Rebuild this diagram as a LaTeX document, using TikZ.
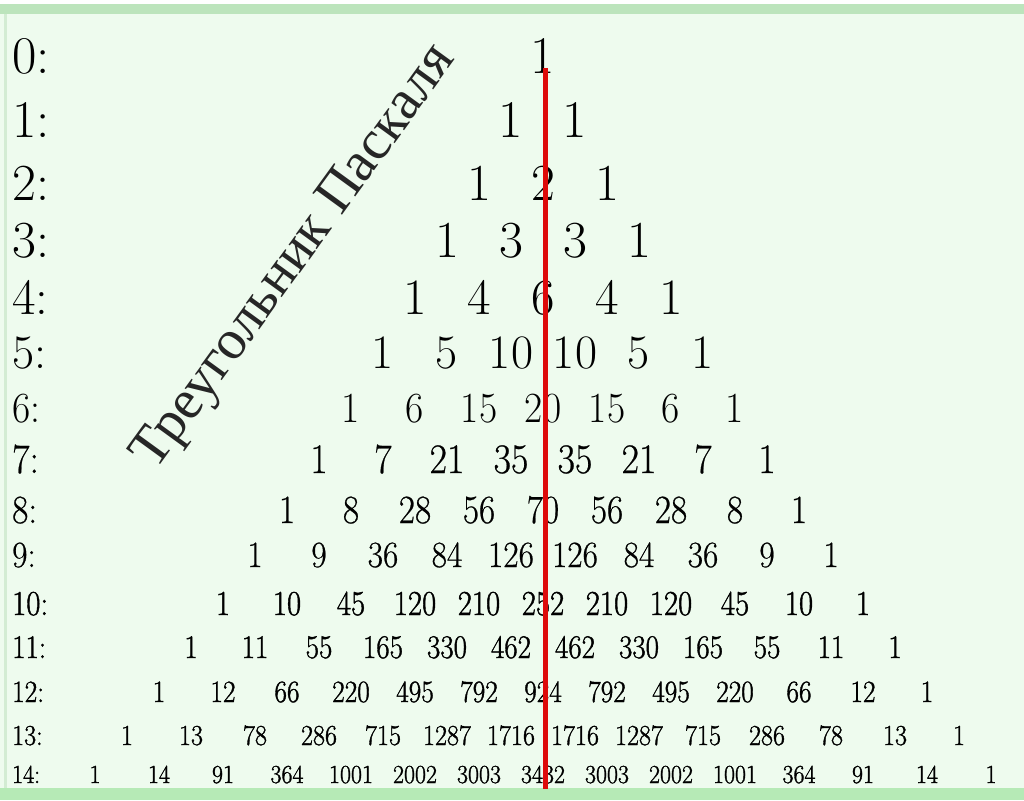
\documentclass[tikz,border=0pt]{standalone}
\usepackage{fontspec}
\usepackage{graphicx}
\newfontfamily\cyrserif{Liberation Serif}
\newfontfamily\lmmid{Latin Modern Roman}[FakeBold=0.6]
\newfontfamily\lmheavy{Latin Modern Roman}[FakeBold=1.3]
\definecolor{bggreen}{HTML}{EEFBEE}
\definecolor{topband}{HTML}{BCE4BC}
\definecolor{botband}{HTML}{B6EAB6}
\definecolor{leftline}{HTML}{D3ECD3}
\definecolor{axisred}{HTML}{DD0A0A}
\newcommand{\rowface}[1]{\ifcase#1\relax\or\lmmid\or\lmheavy\fi}
\tikzset{
  entry/.style={inner sep=0pt, anchor=base, text=black},
  rowlabel/.style={inner sep=0pt, anchor=base west, text=black},
  redline/.style={draw=axisred, line width=5pt},
  titletext/.style={inner sep=0pt, rotate=54, font=\cyrserif\fontsize{56}{56}\selectfont, text=black!85}
}
\begin{document}
\begin{tikzpicture}[x=1pt,y=-1pt]
\useasboundingbox (0,0) rectangle (1024,800);
\fill[white] (0,0) rectangle (1024,800);
\fill[bggreen] (0,4) rectangle (1024,800);
\fill[topband] (0,4) rectangle (1024,14);
\fill[botband] (0,788) rectangle (1024,800);
\fill[leftline] (4,14) rectangle (7,788);
\foreach \r/\yy/\fs/\k/\ff/\vals in {
  0/73/53/1/0/{1},
  1/137/53/1/0/{1,1},
  2/200/52/1/0/{1,2,1},
  3/257/52/1/0/{1,3,3,1},
  4/314/51/1/0/{1,4,6,4,1},
  5/368/48/1/0/{1,5,10,10,5,1},
  6/422/43/0.92/0/{1,6,15,20,15,6,1},
  7/473/42/0.9/1/{1,7,21,35,35,21,7,1},
  8/523/40/0.88/1/{1,8,28,56,70,56,28,8,1},
  9/567/37/0.9/1/{1,9,36,84,126,126,84,36,9,1},
  10/615/35/0.88/2/{1,10,45,120,210,252,210,120,45,10,1},
  11/658/33/0.88/2/{1,11,55,165,330,462,462,330,165,55,11,1},
  12/702/31/0.88/2/{1,12,66,220,495,792,924,792,495,220,66,12,1},
  13/745/29/0.9/2/{1,13,78,286,715,1287,1716,1716,1287,715,286,78,13,1},
  14/783/26/0.92/2/{1,14,91,364,1001,2002,3003,3432,3003,2002,1001,364,91,14,1}}
{
  \node[rowlabel] (lab\r) at (12,\yy) {\scalebox{\k}[1]{\rowface{\ff}\fontsize{\fs}{\fs}\selectfont \r:}};
  \foreach \v [count=\j from 0] in \vals {
    \node[entry] (n\r-\j) at ({543+(2*\j-\r)*32},\yy) {\scalebox{\k}[1]{\rowface{\ff}\fontsize{\fs}{\fs}\selectfont \v}};
  }
}
\coordinate (rtop) at (545,68);
\coordinate (rbot) at (545,789);
\draw[redline] (rtop) -- (rbot);
\node[titletext] (title) at (296,258) {Треугольник Паскаля};
\end{tikzpicture}
\end{document}
